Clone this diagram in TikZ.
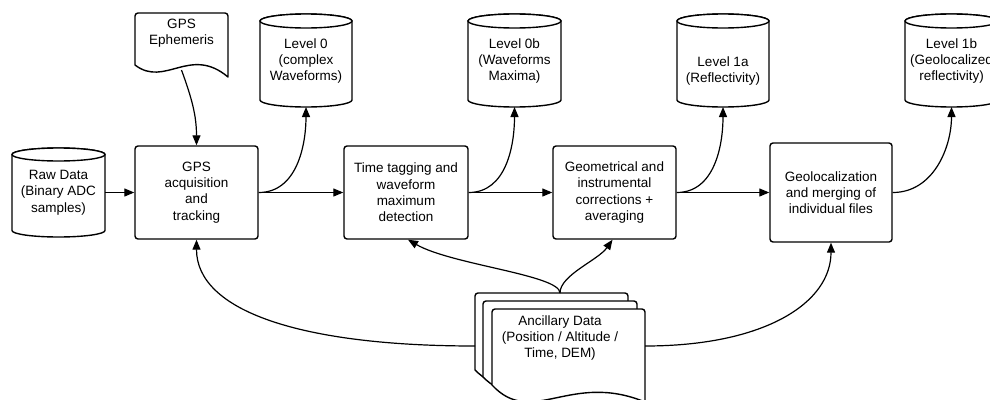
\documentclass[tikz,border=0pt]{standalone}
\usepackage{fontspec}
\setmainfont{Liberation Sans}
\usetikzlibrary{arrows.meta}
\tikzset{
  shp/.style={draw=black, line width=1.4pt, fill=white, line join=round},
  txt/.style={align=center, inner sep=0pt, font=\fontsize{13.5}{16.3}\selectfont},
  proc/.style={shp, txt, rounded corners=3pt},
  ghost/.style={rectangle, inner sep=0pt, outer sep=0pt},
  conn/.style={line width=1.2pt, -{Triangle[length=10pt,width=8pt]}},
}
\newcommand\mycyl[5]{%
  \pgfmathsetmacro\cyCx{(#1+#3)/2}%
  \pgfmathsetmacro\cyRx{(#3-#1)/2}%
  \draw[shp] (#1,-#2-#5) -- (#1,-#4+#5)
     arc[start angle=180,end angle=360,x radius=\cyRx pt,y radius=#5pt]
     -- (#3,-#2-#5)
     arc[start angle=0,end angle=180,x radius=\cyRx pt,y radius=#5pt] -- cycle;
  \draw[shp] (\cyCx,-#2-#5) ellipse[x radius=\cyRx pt, y radius=#5pt];
}
\begin{document}
\begin{tikzpicture}[x=1pt,y=1pt]
\useasboundingbox (0,0) rectangle (990,-399);
\clip (0,0) rectangle (990,-399);
\fill[white] (0,0) rectangle (990,-399);

% cylinders
\mycyl{12}{148}{105}{237}{6.5}
\node[ghost, minimum width=93pt, minimum height=89pt] (raw) at (58.5,-192.5) {};
\node[txt] (rawt) at (raw.center) {Raw Data\\(Binary ADC\\samples)};

\mycyl{260}{14}{352}{107}{7}
\node[ghost, minimum width=92pt, minimum height=93pt] (lvl0) at (306,-60.5) {};
\node[txt] (lvl0t) at (306,-61) {Level 0\\(complex\\Waveforms)};

\mycyl{468}{14}{561}{107}{7}
\node[ghost, minimum width=93pt, minimum height=93pt] (lvl0b) at (514.5,-60.5) {};
\node[txt] (lvl0bt) at (514.5,-61) {Level 0b\\(Waveforms\\Maxima)};

\mycyl{677}{14}{769}{107}{7}
\node[ghost, minimum width=92pt, minimum height=93pt] (lvl1a) at (723,-60.5) {};
\node[txt] (lvl1at) at (723,-71) {Level 1a\\(Reflectivity)};

\mycyl{905}{14}{998}{107}{7}
\node[ghost, minimum width=93pt, minimum height=93pt] (lvl1b) at (951.5,-60.5) {};
\node[txt] (lvl1bt) at (951.5,-61) {Level 1b\\(Geolocalized\\reflectivity)};

% GPS Ephemeris document
\draw[shp] (135,-65) [rounded corners=3pt] -- (135,-13) -- (228,-13) [sharp corners] -- (228,-77)
   .. controls (190,-45) and (165,-88) .. (135,-65) -- cycle;
\node[ghost, minimum width=93pt, minimum height=57pt] (eph) at (181.5,-41.5) {};
\node[txt] (epht) at (181.5,-33) {GPS\\Ephemeris};

% process boxes
\node[proc, minimum width=123pt, minimum height=93pt] (gps) at (196.5,-192.5) {GPS\\acquisition\\and\\tracking};
\node[proc, minimum width=124pt, minimum height=93pt] (time) at (406,-192.5) {Time tagging and\\waveform\\maximum\\detection};
\node[proc, minimum width=123pt, minimum height=93pt] (geom) at (614.5,-192.5) {Geometrical and\\instrumental\\corrections +\\averaging};
\node[proc, minimum width=122pt, minimum height=99pt] (geoloc) at (831,-192.5) {Geolocalization\\and merging of\\individual files};

% Ancillary data stack
\draw[shp] (475,-370) [rounded corners=3pt] -- (475,-293) -- (628,-293) [sharp corners] -- (628,-387)
   .. controls (553,-356) and (515,-410) .. (475,-370) -- cycle;
\draw[shp] (483,-377) [rounded corners=3pt] -- (483,-301) -- (637,-301) [sharp corners] -- (637,-394)
   .. controls (561,-363) and (523,-417) .. (483,-377) -- cycle;
\draw[shp] (492,-385) [rounded corners=3pt] -- (492,-309) -- (645,-309) [sharp corners] -- (645,-402)
   .. controls (570,-371) and (532,-428) .. (492,-385) -- cycle;
\node[ghost, minimum width=170pt, minimum height=106pt] (anc) at (560,-346) {};
\node[txt] (anct) at (560,-338) {Ancillary Data\\(Position / Altitude /\\Time, DEM)};

% connectors
\draw[conn] (raw.east) -- (gps.west);
\draw[conn] (gps.east) -- (time.west);
\draw[conn] (time.east) -- (geom.west);
\draw[conn] (geom.east) -- (geoloc.west);

\draw[conn] (gps.east) to[out=0,in=-90] (lvl0.south);
\draw[conn] (time.east) to[out=0,in=-90] (lvl0b.south);
\draw[conn] (geom.east) to[out=0,in=-90] (lvl1a.south);
\draw[conn] (geoloc.east) to[out=0,in=-90] (lvl1b.south);

\draw[conn] (eph.south) to[out=-70,in=90] (gps.north);

\draw[conn] (anc.north) to[out=90,in=-30,out distance=18pt,in distance=50pt] ([xshift=2pt]time.south);
\draw[conn] (anc.north) to[out=90,in=-125,out distance=18pt,in distance=25pt] ([xshift=-2pt]geom.south);
\draw[conn] (anc.west) to[out=180,in=-90,out distance=175pt,in distance=71pt] (gps.south);
\draw[conn] (anc.east) to[out=0,in=-90,out distance=120pt,in distance=60pt] (geoloc.south);
\end{tikzpicture}
\end{document}
